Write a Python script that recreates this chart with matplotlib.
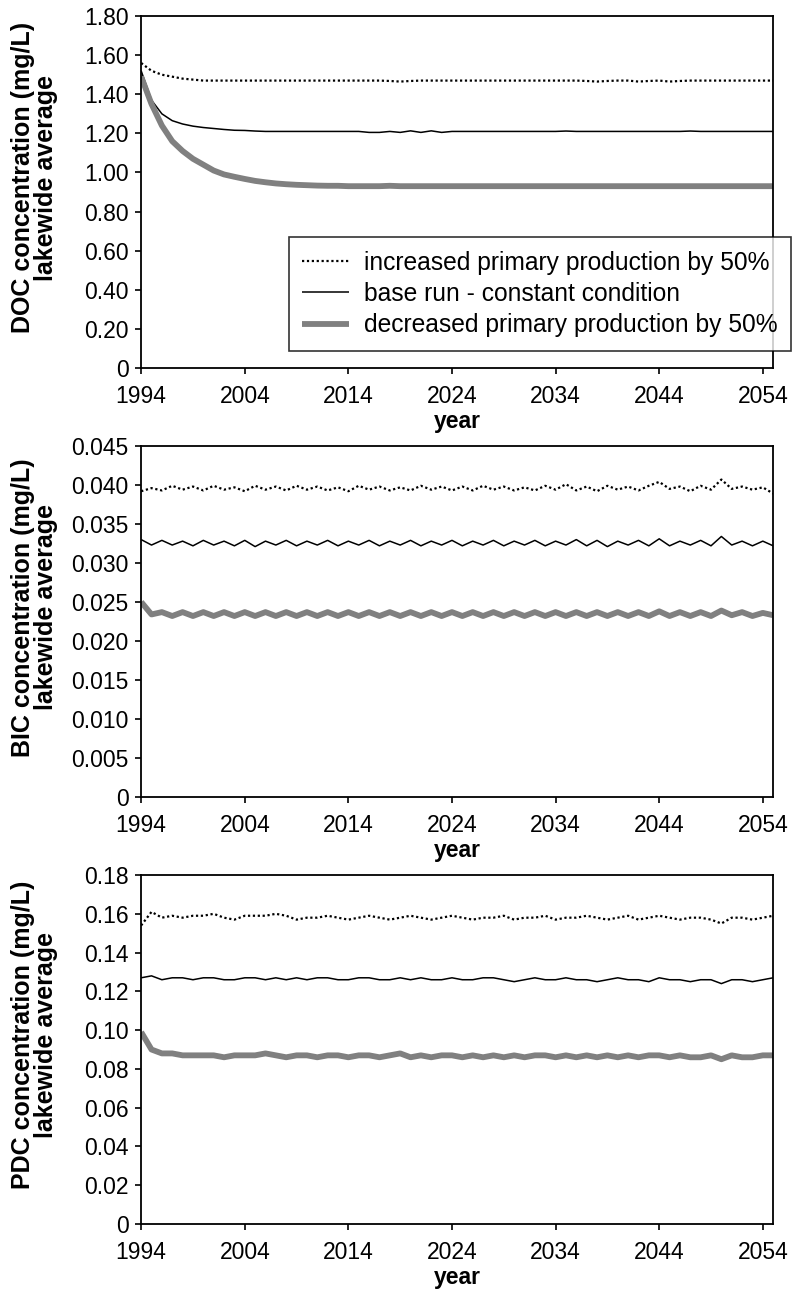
import numpy as np
import matplotlib
matplotlib.use("Agg")
import matplotlib.pyplot as plt
from matplotlib.ticker import FuncFormatter

plt.rcParams['font.family'] = ['Liberation Sans', 'DejaVu Sans']

years = np.arange(1994, 2056)

labels = ["increased primary production by 50%",
          "base run - constant condition",
          "decreased primary production by 50%"]

# DOC (mg/L)
doc_inc = [1.56, 1.52, 1.50, 1.49, 1.48, 1.475, 1.47, 1.47, 1.47, 1.47,
           1.47, 1.47, 1.47, 1.47, 1.47, 1.47, 1.47, 1.47, 1.47, 1.47,
           1.47, 1.47, 1.47, 1.47, 1.468, 1.465, 1.468, 1.47, 1.47, 1.47,
           1.47, 1.47, 1.47, 1.47, 1.47, 1.47, 1.47, 1.47, 1.47, 1.47,
           1.47, 1.47, 1.47, 1.468, 1.465, 1.468, 1.47, 1.47, 1.465, 1.468,
           1.47, 1.465, 1.468, 1.47, 1.47, 1.47, 1.47, 1.47, 1.47, 1.47,
           1.47, 1.47]
doc_base = [1.52, 1.37, 1.30, 1.265, 1.248, 1.237, 1.23, 1.225, 1.22, 1.216,
            1.215, 1.212, 1.21, 1.21, 1.21, 1.21, 1.21, 1.21, 1.21, 1.21,
            1.21, 1.21, 1.205, 1.205, 1.21, 1.205, 1.213, 1.205, 1.213, 1.205,
            1.21, 1.21, 1.21, 1.21, 1.21, 1.21, 1.21, 1.21, 1.21, 1.21,
            1.21, 1.212, 1.21, 1.21, 1.21, 1.21, 1.21, 1.21, 1.21, 1.21,
            1.21, 1.21, 1.21, 1.212, 1.21, 1.21, 1.21, 1.21, 1.21, 1.21,
            1.21, 1.21]
doc_dec = [1.49, 1.35, 1.24, 1.16, 1.11, 1.07, 1.04, 1.01, 0.99, 0.978,
           0.967, 0.957, 0.95, 0.944, 0.94, 0.937, 0.935, 0.933, 0.932, 0.932,
           0.93, 0.93, 0.93, 0.93, 0.932, 0.93, 0.93, 0.93, 0.93, 0.93,
           0.93, 0.93, 0.93, 0.93, 0.93, 0.93, 0.93, 0.93, 0.93, 0.93,
           0.93, 0.93, 0.93, 0.93, 0.93, 0.93, 0.93, 0.93, 0.93, 0.93,
           0.93, 0.93, 0.93, 0.93, 0.93, 0.93, 0.93, 0.93, 0.93, 0.93,
           0.93, 0.93]

# BIC (mg/L)
bic_inc = [0.0392, 0.0396, 0.0393, 0.0399, 0.0394, 0.0398, 0.0393, 0.0399, 0.0394, 0.0397,
           0.0392, 0.0399, 0.0394, 0.0398, 0.0393, 0.0399, 0.0394, 0.0398, 0.0393, 0.0397,
           0.0392, 0.0399, 0.0394, 0.0398, 0.0393, 0.0397, 0.0393, 0.0399, 0.0394, 0.0398,
           0.0393, 0.0398, 0.0393, 0.0399, 0.0394, 0.0398, 0.0393, 0.0397, 0.0393, 0.0399,
           0.0394, 0.0401, 0.0393, 0.0398, 0.0392, 0.0399, 0.0394, 0.0398, 0.0393, 0.0399,
           0.0404, 0.0395, 0.0398, 0.0392, 0.0399, 0.0394, 0.0407, 0.0395, 0.0398, 0.0394,
           0.0397, 0.0389]
bic_base = [0.0330, 0.0323, 0.0329, 0.0323, 0.0328, 0.0322, 0.0329, 0.0323, 0.0328, 0.0322,
            0.0329, 0.0321, 0.0328, 0.0323, 0.0329, 0.0322, 0.0328, 0.0323, 0.0329, 0.0322,
            0.0328, 0.0323, 0.0329, 0.0322, 0.0328, 0.0323, 0.0329, 0.0322, 0.0328, 0.0323,
            0.0329, 0.0322, 0.0328, 0.0323, 0.0329, 0.0322, 0.0328, 0.0323, 0.0329, 0.0322,
            0.0328, 0.0323, 0.0330, 0.0322, 0.0329, 0.0321, 0.0328, 0.0323, 0.0329, 0.0322,
            0.0331, 0.0322, 0.0328, 0.0323, 0.0329, 0.0322, 0.0334, 0.0323, 0.0328, 0.0322,
            0.0328, 0.0322]
bic_dec = [0.0250, 0.0234, 0.0237, 0.0232, 0.0237, 0.0232, 0.0237, 0.0232, 0.0237, 0.0232,
           0.0237, 0.0232, 0.0237, 0.0232, 0.0237, 0.0232, 0.0237, 0.0232, 0.0237, 0.0232,
           0.0237, 0.0232, 0.0237, 0.0232, 0.0237, 0.0232, 0.0237, 0.0232, 0.0237, 0.0232,
           0.0237, 0.0232, 0.0237, 0.0232, 0.0237, 0.0232, 0.0237, 0.0232, 0.0237, 0.0232,
           0.0237, 0.0232, 0.0237, 0.0232, 0.0237, 0.0232, 0.0237, 0.0232, 0.0237, 0.0232,
           0.0238, 0.0232, 0.0237, 0.0232, 0.0237, 0.0232, 0.0239, 0.0233, 0.0237, 0.0232,
           0.0236, 0.0233]

# PDC (mg/L)
pdc_inc = [0.154, 0.161, 0.158, 0.159, 0.158, 0.159, 0.159, 0.160, 0.158, 0.157,
           0.159, 0.159, 0.159, 0.160, 0.159, 0.157, 0.158, 0.158, 0.159, 0.158,
           0.157, 0.158, 0.159, 0.158, 0.157, 0.158, 0.159, 0.158, 0.157, 0.158,
           0.159, 0.158, 0.157, 0.158, 0.158, 0.159, 0.157, 0.158, 0.158, 0.159,
           0.157, 0.158, 0.158, 0.159, 0.158, 0.157, 0.158, 0.159, 0.157, 0.158,
           0.159, 0.158, 0.157, 0.158, 0.158, 0.157, 0.155, 0.158, 0.158, 0.157,
           0.158, 0.159]
pdc_base = [0.127, 0.128, 0.126, 0.127, 0.127, 0.126, 0.127, 0.127, 0.126, 0.126,
            0.127, 0.127, 0.126, 0.127, 0.126, 0.127, 0.126, 0.127, 0.127, 0.126,
            0.126, 0.127, 0.127, 0.126, 0.126, 0.127, 0.126, 0.127, 0.126, 0.126,
            0.127, 0.126, 0.126, 0.127, 0.127, 0.126, 0.125, 0.126, 0.127, 0.126,
            0.126, 0.127, 0.126, 0.126, 0.125, 0.126, 0.127, 0.126, 0.126, 0.125,
            0.127, 0.126, 0.126, 0.125, 0.126, 0.126, 0.124, 0.126, 0.126, 0.125,
            0.126, 0.127]
pdc_dec = [0.099, 0.090, 0.088, 0.088, 0.087, 0.087, 0.087, 0.087, 0.086, 0.087,
           0.087, 0.087, 0.088, 0.087, 0.086, 0.087, 0.087, 0.086, 0.087, 0.087,
           0.086, 0.087, 0.087, 0.086, 0.087, 0.088, 0.086, 0.087, 0.086, 0.087,
           0.087, 0.086, 0.087, 0.086, 0.087, 0.086, 0.087, 0.086, 0.087, 0.087,
           0.086, 0.087, 0.086, 0.087, 0.086, 0.087, 0.086, 0.087, 0.086, 0.087,
           0.087, 0.086, 0.087, 0.086, 0.086, 0.087, 0.085, 0.087, 0.086, 0.086,
           0.087, 0.087]

panels = [
    ("DOC concentration (mg/L)\nlakewide average", [doc_inc, doc_base, doc_dec],
     np.arange(0, 1.81, 0.2), 1.80, "{:.2f}"),
    ("BIC concentration (mg/L)\nlakewide average", [bic_inc, bic_base, bic_dec],
     np.arange(0, 0.0451, 0.005), 0.045, "{:.3f}"),
    ("PDC concentration (mg/L)\nlakewide average", [pdc_inc, pdc_base, pdc_dec],
     np.arange(0, 0.181, 0.02), 0.18, "{:.2f}"),
]

# axes boxes in figure fraction (left, bottom, width, height)
boxes = [(0.178, 0.7158, 0.797, 0.2718),
         (0.178, 0.3846, 0.797, 0.2710),
         (0.178, 0.0548, 0.797, 0.2695)]

styles = [dict(color="black", lw=1.6, ls=(0, (1, 1.2))),
          dict(color="black", lw=1.1, ls="-"),
          dict(color="#808080", lw=4.2, ls="-")]

fig = plt.figure(figsize=(7.93, 12.95), dpi=100)

for i, (ylab, series, yticks, ymax, fmt) in enumerate(panels):
    ax = fig.add_axes(boxes[i])
    for s, st, lab in zip(series, styles, labels):
        ax.plot(years, s, label=lab, solid_capstyle="butt", **st)
    ax.set_xlim(1994, 2055)
    ax.set_ylim(0, ymax)
    ax.set_xticks(np.arange(1994, 2055, 10))
    ax.set_yticks(yticks)
    ax.yaxis.set_major_formatter(
        FuncFormatter(lambda v, p, f=fmt: "0" if abs(v) < 1e-12 else f.format(v)))
    ax.tick_params(direction="out", length=4, width=1.2, labelsize=16.5, colors="black")
    ax.tick_params(axis="x", pad=8)
    ax.tick_params(axis="y", pad=5)
    for sp in ax.spines.values():
        sp.set_linewidth(1.3)
    ax.set_xlabel("year", fontsize=16.5, fontweight="bold", labelpad=2)
    b = boxes[i]
    fig.text(0.0435, b[1] + b[3] / 2 + 0.011, ylab, rotation=90, ha="center", va="center",
             fontsize=18, fontweight="bold", linespacing=0.9)
    if i == 0:
        leg = ax.legend(loc="upper right", bbox_to_anchor=(791 / 793, 1 - 237 / 1295),
                        bbox_transform=fig.transFigure, borderaxespad=0,
                        fontsize=17.7, frameon=True, fancybox=False, handlelength=1.9,
                        labelspacing=0.3, borderpad=0.55, handletextpad=0.6)
        leg.get_frame().set_edgecolor("black")
        leg.get_frame().set_linewidth(1.2)

fig.savefig("out.png", dpi=100)
